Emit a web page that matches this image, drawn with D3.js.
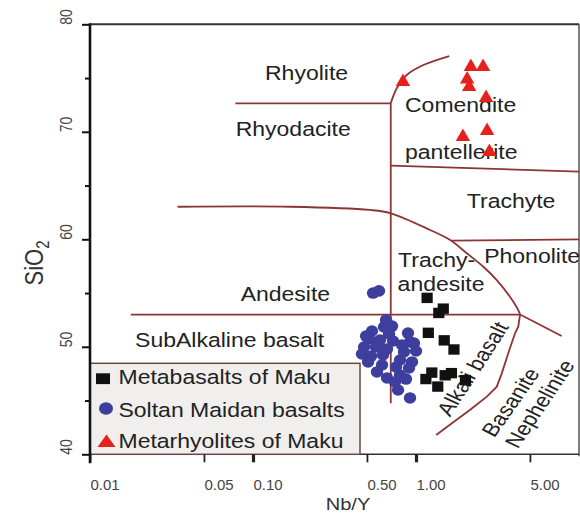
<!DOCTYPE html>
<html><head><meta charset="utf-8">
<script src="https://cdn.jsdelivr.net/npm/d3@7"></script>
<style>
body{margin:0;background:#fff;}
svg{display:block;}
text{font-family:"Liberation Sans",Arial,Helvetica,sans-serif;}
</style>
</head><body>
<svg id="chart" width="580" height="515"></svg>
<script>
// ---------- data ----------
const xTicks = [0.01, 0.05, 0.10, 0.50, 1.00, 5.00];
const yTicks = [40, 50, 60, 70, 80];
const yMinorTicks = [45, 55, 65, 75];

const metabasaltsNbY  = [1.17, 1.47, 1.38, 1.19, 1.49, 1.71, 1.15, 1.25, 1.36, 1.51, 1.65, 2.01];
const metabasaltsSiO2 = [54.55, 53.55, 53.15, 51.3, 50.6, 49.75, 47.0, 47.6, 46.3, 47.35, 47.55, 46.9];

const soltanNbY  = [0.545,0.593,0.655,0.636,0.537,0.683,0.893,0.515,0.601,0.723,0.919,0.480,0.568,0.664,0.821,0.466,0.530,0.627,0.844,1.000,0.798,0.945,0.508,0.754,0.906,0.576,0.664,0.798,0.868,0.743,0.776,0.919,0.713,0.972,0.619,0.494];
const soltanSiO2 = [55.0,55.2,52.5,51.84,51.47,51.19,51.28,50.73,50.63,50.54,50.45,49.98,49.98,49.80,50.17,49.33,49.14,49.24,49.52,49.61,48.77,48.59,48.59,48.12,48.03,47.66,47.10,47.38,47.00,46.73,45.98,45.24,51.93,50.35,48.31,51.0];

const rhyoliteNbY  = [0.832, 2.17, 2.58, 2.06, 2.12, 2.69, 1.94, 2.73, 2.82];
const rhyoliteSiO2 = [74.82, 76.21, 76.21, 75.05, 74.35, 73.33, 69.70, 70.26, 68.31];

const seriesNames = ["Metabasalts of Maku", "Soltan Maidan basalts", "Metarhyolites of Maku"];

// field boundaries [Nb/Y, SiO2]
const bRhyolite   = [[0.078,72.65],[0.70,72.65]];
const bComendite  = [[0.70,72.65],[0.762,74.05],[0.877,75.28],[1.109,76.21],[1.60,77.05]];
const bVertical   = [[0.70,72.65],[0.70,44.75]];
const bTrachyte   = [[0.70,66.85],[10,66.3]];
const bAndesite   = [[0.0345,63.03],[0.169,63.03],[0.522,62.73],[0.70,62.42],[1.22,60.87],[1.62,59.93],[2.05,58.70],[2.59,57.45],[3.13,56.21],[3.77,54.66],[4.24,53.42],[4.35,53.0]];
const bPhonolite  = [[1.66,59.87],[10,60.0]];
const bSubalk     = [[0.0178,53.0],[4.35,53.0]];
const bNephelin   = [[4.35,53.0],[7.83,51.0]];
const bAlkali     = [[4.35,53.0],[4.24,51.87],[4.05,51.26],[3.68,49.40],[3.36,47.53],[3.13,46.29],[2.72,45.36],[2.14,44.12],[1.66,42.88],[1.33,41.80]];

// field labels
const regionNames = ["Rhyolite","Rhyodacite","Comendite","pantellerite","Trachyte","Phonolite","Trachy-","andesite","Andesite","SubAlkaline basalt"];
const regionNbY   = [0.1185,0.0783,0.856,0.856,2.05,2.62,0.776,0.771,0.084,0.0189];
const regionSiO2  = [74.82,69.61,71.87,67.44,62.88,57.77,57.42,55.22,54.29,49.95];
const slantNames  = ["Alkali basalt","Basanite","Nephelinite"];
const slantNbY    = [2.24,3.82,5.77];
const slantSiO2   = [47.93,44.82,44.68];

// ---------- drawing ----------
const svg = d3.select("#chart");
const SX = 1.18;                 // horizontal stretch of the original figure
const lineColor = "#8d3434";
const x = d3.scaleLog().domain([0.01, 10]).range([90, 579]);
const y = d3.scaleLinear().domain([40, 80]).range([454.3, 24.3]);

svg.append("rect").attr("width",580).attr("height",515).attr("fill","#fff");

// frame
svg.append("line").attr("x1",90).attr("x2",579).attr("y1",y(80)).attr("y2",y(80))
  .attr("stroke","#333").attr("stroke-width",2);
svg.append("line").attr("x1",579).attr("x2",579).attr("y1",y(80)).attr("y2",y(40)+2)
  .attr("stroke","#555").attr("stroke-width",1.5);
svg.append("line").attr("x1",90).attr("x2",579).attr("y1",y(40)).attr("y2",y(40))
  .attr("stroke","#333").attr("stroke-width",1.5);

// boundaries
const lin = d3.line().x(d=>x(d[0])).y(d=>y(d[1]));
const smooth = d3.line().x(d=>x(d[0])).y(d=>y(d[1])).curve(d3.curveCatmullRom.alpha(0.5));
const gB = svg.append("g").attr("fill","none").attr("stroke",lineColor).attr("stroke-width",1.8);
[bRhyolite,bVertical,bTrachyte,bPhonolite,bSubalk,bNephelin,bAlkali].forEach(b=>gB.append("path").attr("d",lin(b)));
[bComendite,bAndesite].forEach(b=>gB.append("path").attr("d",smooth(b)));

// field labels
const gL = svg.append("g").attr("fill","#222").attr("font-size",19.5);
regionNames.forEach((n,i)=>{
  gL.append("text").text(n)
    .attr("transform",`translate(${x(regionNbY[i])},${y(regionSiO2[i])}) scale(${SX},1)`);
});
const slantAngles = [-61,-59,-60];
slantNames.forEach((n,i)=>{
  gL.append("text").text(n)
    .attr("text-anchor","middle").attr("dominant-baseline","central")
    .attr("transform",`translate(${x(slantNbY[i])},${y(slantSiO2[i])}) scale(${SX},1) rotate(${slantAngles[i]})`);
});

// legend
const lg = svg.append("g");
lg.append("rect").attr("x",90).attr("y",363.3).attr("width",270).attr("height",y(40)-363.3)
  .attr("fill","#f1efee").attr("stroke","#6e4545").attr("stroke-width",1.5);
lg.append("rect").attr("x",96).attr("y",373.3).attr("width",14).attr("height",10.8).attr("fill","#111");
lg.append("ellipse").attr("cx",106).attr("cy",408.5).attr("rx",7).attr("ry",6.2).attr("fill","#3e3e9e");
lg.append("path").attr("d","M106.5,434.5 L115.5,447 L97.5,447 Z").attr("fill","#e8201c");
const legY = [384, 416.7, 448.3];
seriesNames.forEach((n,i)=>{
  lg.append("text").text(n).attr("fill","#222").attr("font-size",19.5)
    .attr("transform",`translate(118.5,${legY[i]}) scale(${SX},1)`);
});

// axes
const xAxis = d3.axisBottom(x).tickValues(xTicks).tickFormat(d3.format(".2f")).tickSize(8);
const gx = svg.append("g").attr("transform",`translate(0,${y(40)})`).call(xAxis);
gx.select(".domain").remove();
gx.selectAll(".tick line").attr("stroke","#222")
  .attr("stroke-width",d=>[0.1,1].includes(d)?3.2:1.8);
gx.selectAll(".tick text").attr("y",36).attr("dy",null).attr("text-anchor","start")
  .attr("font-size",15).attr("fill","#444").attr("font-family",'"Liberation Sans",Arial,sans-serif');

const yAxis = d3.axisLeft(y).tickValues(yTicks).tickSize(8);
const gy = svg.append("g").attr("transform","translate(90,0)").call(yAxis);
gy.select(".domain").remove();
gy.selectAll(".tick line").attr("stroke","#111").attr("stroke-width",2);
gy.selectAll(".tick text").attr("x",0).attr("dy",null).attr("text-anchor","start")
  .attr("font-size",14).attr("fill","#444").attr("font-family",'"Liberation Sans",Arial,sans-serif')
  .attr("transform",`translate(-18,0) scale(${SX},1) rotate(-90)`);
const gym = svg.append("g").attr("transform","translate(90,0)")
  .call(d3.axisLeft(y).tickValues(yMinorTicks).tickSize(5).tickFormat(""));
gym.select(".domain").remove();
gym.selectAll(".tick line").attr("stroke","#111").attr("stroke-width",2);

svg.append("line").attr("x1",90).attr("x2",90).attr("y1",y(80)-1).attr("y2",y(40)+9)
  .attr("stroke","#111").attr("stroke-width",2.6);

// axis titles
const st = svg.append("text").attr("fill","#333").attr("font-size",22).attr("text-anchor","middle")
  .attr("transform",`translate(43,263) scale(${SX},1) rotate(-90)`);
st.append("tspan").text("SiO");
st.append("tspan").text("2").attr("font-size",15).attr("dy",5);
svg.append("text").text("Nb/Y").attr("fill","#333").attr("font-size",17).attr("text-anchor","middle")
  .attr("transform",`translate(348,509.5) scale(${SX},1)`);

// points
const gp = svg.append("g");
gp.selectAll("ellipse.soltan").data(soltanNbY.map((v,i)=>[v,soltanSiO2[i]])).join("ellipse")
  .attr("cx",d=>x(d[0])).attr("cy",d=>y(d[1])).attr("rx",6.2).attr("ry",5.8).attr("fill","#3e3e9e");
gp.selectAll("rect.meta").data(metabasaltsNbY.map((v,i)=>[v,metabasaltsSiO2[i]])).join("rect")
  .attr("x",d=>x(d[0])-5.6).attr("y",d=>y(d[1])-5.2).attr("width",11.2).attr("height",10.4).attr("fill","#111");
gp.selectAll("path.rhy").data(rhyoliteNbY.map((v,i)=>[v,rhyoliteSiO2[i]])).join("path")
  .attr("d",d=>{const cx=x(d[0]),cy=y(d[1]);return `M${cx},${cy-6.5} L${cx+7.2},${cy+6} L${cx-7.2},${cy+6} Z`;})
  .attr("fill","#e8201c");
</script>
</body></html>
